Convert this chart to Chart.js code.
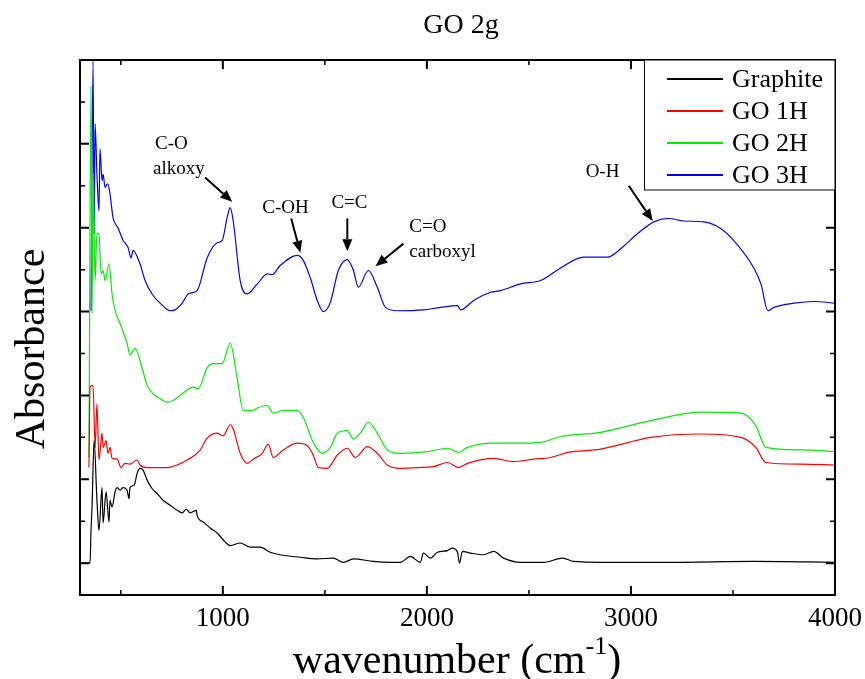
<!DOCTYPE html>
<html>
<head>
<meta charset="utf-8">
<script src="https://cdn.jsdelivr.net/npm/chart.js@4"></script>
<style>
  html, body { margin: 0; padding: 0; background: #fff; }
  #wrap { width: 865px; height: 679px; }
</style>
</head>
<body>
<div id="wrap"><canvas id="myChart" width="865" height="679"></canvas></div>
<script>
// values: [wavenumber, absorbance]
const graphite = [
  [300,0],[349,0],[354,0.39],[359,0.67],[369,1.46],[383,0.75],[393,0.39],[408,0.90],[413,0.48],
  [428,0.85],[442,0.49],[447,0.75],[457,0.67],[472,0.85],[482,0.90],[496,0.87],[511,0.90],
  [531,0.87],[540,0.77],[545,0.90],[565,0.93],[580,1.07],[594,1.13],[609,1.11],[629,0.99],
  [653,0.89],[678,0.83],[707,0.75],[742,0.69],[776,0.63],[801,0.60],[820,0.64],[840,0.60],
  [870,0.63],[874,0.57],[904,0.49],[938,0.42],[972,0.36],[1012,0.25],[1036,0.21],[1085,0.24],
  [1134,0.19],[1183,0.19],[1232,0.13],[1281,0.10],[1380,0.07],[1463,0.05],[1541,0.06],
  [1591,0.01],[1640,0.05],[1738,0.02],[1821,0.01],[1870,0.01],[1919,0.08],[1968,0.01],
  [1983,0.12],[2017,0.06],[2052,0.13],[2101,0.15],[2125,0.18],[2150,0.13],[2160,0.0],
  [2174,0.14],[2214,0.12],[2278,0.10],[2327,0.14],[2376,0.06],[2459,0.01],[2572,0.01],
  [2665,0.06],[2719,0.02],[2852,0.01],[3200,0.01],[3600,0.02],[4000,0.01]
];
const go1h = [
  [344,1.14],[349,2.10],[364,2.12],[374,1.38],[383,1.90],[393,1.23],[408,1.55],[413,1.38],
  [428,1.46],[437,1.31],[447,1.38],[457,1.25],[482,1.24],[501,1.14],[521,1.19],[545,1.18],
  [580,1.23],[594,1.17],[629,1.14],[678,1.14],[727,1.14],[776,1.17],[825,1.23],[864,1.29],
  [889,1.35],[923,1.49],[972,1.55],[1002,1.52],[1036,1.65],[1051,1.60],[1085,1.31],[1119,1.19],
  [1149,1.24],[1193,1.31],[1223,1.42],[1247,1.26],[1296,1.35],[1365,1.43],[1414,1.40],
  [1443,1.29],[1468,1.14],[1512,1.13],[1561,1.29],[1610,1.37],[1649,1.26],[1708,1.39],
  [1757,1.31],[1806,1.17],[1870,1.13],[1954,1.14],[2032,1.15],[2101,1.20],[2155,1.14],
  [2199,1.19],[2327,1.25],[2425,1.21],[2523,1.24],[2606,1.26],[2690,1.32],[2852,1.36],
  [3097,1.50],[3342,1.54],[3539,1.50],[3612,1.38],[3661,1.20],[3833,1.18],[4000,1.17]
];
const go2h = [
  [344,1.26],[354,5.69],[359,2.98],[364,4.65],[369,3.93],[374,3.37],[379,3.73],[383,3.93],
  [393,3.93],[403,3.45],[413,3.49],[423,3.37],[442,3.57],[457,3.21],[472,3.01],[496,2.86],
  [521,2.69],[531,2.62],[545,2.48],[570,2.56],[604,2.33],[629,2.12],[658,2.02],[693,1.96],
  [727,1.92],[756,1.94],[801,2.02],[854,2.10],[879,2.08],[923,2.33],[953,2.38],[997,2.38],
  [1036,2.62],[1070,2.21],[1100,1.82],[1144,1.82],[1169,1.85],[1218,1.88],[1247,1.79],
  [1296,1.82],[1365,1.82],[1394,1.74],[1443,1.44],[1487,1.31],[1527,1.38],[1561,1.55],
  [1610,1.58],[1640,1.48],[1674,1.55],[1713,1.68],[1757,1.55],[1806,1.35],[1870,1.31],
  [2003,1.33],[2101,1.37],[2155,1.32],[2199,1.38],[2327,1.43],[2425,1.43],[2557,1.44],
  [2655,1.51],[2852,1.56],[3097,1.70],[3342,1.80],[3539,1.79],[3612,1.64],[3661,1.38],
  [3833,1.35],[4000,1.33]
];
const go3h = [
  [354,3.01],[364,5.99],[369,3.93],[374,5.24],[383,4.64],[393,4.20],[398,4.94],[408,4.56],
  [413,4.64],[423,4.48],[433,4.52],[437,4.52],[447,4.40],[462,4.12],[486,4.00],[511,3.85],
  [536,3.76],[550,3.64],[560,3.73],[594,3.57],[619,3.37],[653,3.21],[693,3.10],[742,3.01],
  [766,3.02],[801,3.10],[830,3.21],[874,3.25],[923,3.64],[972,3.82],[997,3.85],[1021,4.12],
  [1036,4.24],[1051,4.08],[1085,3.37],[1119,3.21],[1169,3.33],[1218,3.45],[1242,3.44],
  [1281,3.55],[1365,3.67],[1394,3.61],[1429,3.40],[1463,3.13],[1492,3.00],[1527,3.11],
  [1566,3.49],[1610,3.62],[1640,3.49],[1664,3.29],[1713,3.49],[1757,3.29],[1797,3.05],
  [1856,3.01],[1983,3.02],[2067,3.05],[2150,3.07],[2165,3.02],[2228,3.13],[2312,3.23],
  [2361,3.25],[2459,3.33],[2557,3.37],[2655,3.52],[2768,3.65],[2886,3.65],[2950,3.75],
  [3033,3.93],[3112,4.07],[3185,4.11],[3259,4.08],[3357,4.07],[3440,3.99],[3524,3.79],
  [3602,3.52],[3637,3.33],[3671,3.01],[3701,3.05],[3799,3.10],[3897,3.12],[4000,3.10]
];
const seriesNames = ['Graphite', 'GO 1H', 'GO 2H', 'GO 3H'];
const xTicks = [1000, 2000, 3000, 4000];
const xMinorTicks = [500, 1500, 2500, 3500];
const yTicks = [0, 1, 2, 3, 4, 5, 6];
const yMinorTicks = [-0.5, 0.5, 1.5, 2.5, 3.5, 4.5, 5.5];

// peak labels: text lines at [x, y], arrow from -> to
const peakLabels = [
  { lines: [['C-O', 668, 5.00], ['alkoxy', 658, 4.70]], from: [913, 4.60], to: [1046, 4.31] },
  { lines: [['C-OH', 1193, 4.24]], from: [1335, 4.11], to: [1380, 3.70] },
  { lines: [['C=C', 1532, 4.29]], from: [1610, 4.11], to: [1610, 3.72] },
  { lines: [['C=O', 1914, 4.01], ['carboxyl', 1914, 3.71]], from: [1885, 3.81], to: [1748, 3.54] },
  { lines: [['O-H', 2778, 4.67]], from: [2989, 4.50], to: [3107, 4.08] }
];

const colors = ['#000000', '#ff0000', '#00ee00', '#0000ff'];
const serif = "'Liberation Serif', 'Times New Roman', serif";

const toXY = arr => arr.map(p => ({ x: p[0], y: p[1] }));

function arrow(ctx, x1, y1, x2, y2) {
  const a = Math.atan2(y2 - y1, x2 - x1);
  const len = 12, w = 5;
  const bx = x2 - len * Math.cos(a), by = y2 - len * Math.sin(a);
  ctx.beginPath();
  ctx.moveTo(x1, y1);
  ctx.lineTo(bx, by);
  ctx.lineWidth = 2;
  ctx.stroke();
  ctx.beginPath();
  ctx.moveTo(x2, y2);
  ctx.lineTo(bx + w * Math.sin(a), by - w * Math.cos(a));
  ctx.lineTo(bx - w * Math.sin(a), by + w * Math.cos(a));
  ctx.closePath();
  ctx.fill();
}

const decor = {
  id: 'decor',
  afterDraw(chart) {
    const ctx = chart.ctx;
    const xs = chart.scales.x, ys = chart.scales.y;
    const a = chart.chartArea;
    ctx.save();
    ctx.strokeStyle = '#000';
    ctx.fillStyle = '#000';

    // frame
    ctx.lineWidth = 2;
    ctx.strokeRect(a.left, a.top, a.right - a.left, a.bottom - a.top);

    // inward ticks on all four sides
    const tick = (vals, len) => {
      vals.forEach(v => {
        const px = xs.getPixelForValue(v);
        ctx.beginPath();
        ctx.moveTo(px, a.bottom); ctx.lineTo(px, a.bottom - len);
        ctx.moveTo(px, a.top); ctx.lineTo(px, a.top + len);
        ctx.stroke();
      });
    };
    const tickY = (vals, len) => {
      vals.forEach(v => {
        const py = ys.getPixelForValue(v);
        if (py < a.top || py > a.bottom) return;
        ctx.beginPath();
        ctx.moveTo(a.left, py); ctx.lineTo(a.left + len, py);
        ctx.moveTo(a.right, py); ctx.lineTo(a.right - len, py);
        ctx.stroke();
      });
    };
    ctx.lineWidth = 2;
    tick(xTicks, 9);
    tickY(yTicks, 9);
    ctx.lineWidth = 1.5;
    tick(xMinorTicks, 5);
    tickY(yMinorTicks, 5);

    // legend
    ctx.lineWidth = 1;
    ctx.fillStyle = '#fff';
    ctx.fillRect(644, a.top, a.right - 644, 130);
    ctx.strokeStyle = '#000';
    ctx.strokeRect(644.5, a.top, a.right - 644.5, 130);
    ctx.font = '26px ' + serif;
    ctx.textBaseline = 'middle';
    ctx.textAlign = 'left';
    seriesNames.forEach((name, i) => {
      const y = 79 + i * 32;
      ctx.strokeStyle = colors[i];
      ctx.lineWidth = 2;
      ctx.beginPath();
      ctx.moveTo(667, y); ctx.lineTo(723, y);
      ctx.stroke();
      ctx.fillStyle = '#000';
      ctx.fillText(name, 732, y + 1);
    });

    // peak labels
    ctx.strokeStyle = '#000';
    ctx.fillStyle = '#000';
    ctx.font = '19px ' + serif;
    peakLabels.forEach(p => {
      p.lines.forEach(l => {
        ctx.fillText(l[0], xs.getPixelForValue(l[1]), ys.getPixelForValue(l[2]));
      });
      arrow(ctx, xs.getPixelForValue(p.from[0]), ys.getPixelForValue(p.from[1]),
        xs.getPixelForValue(p.to[0]), ys.getPixelForValue(p.to[1]));
    });

    // chart title
    ctx.textAlign = 'center';
    ctx.textBaseline = 'alphabetic';
    ctx.font = '28px ' + serif;
    ctx.fillText('GO 2g', 461, 33);

    // x axis title with superscript
    const big = '42px ' + serif, small = '26px ' + serif;
    ctx.font = big;
    const w1 = ctx.measureText('wavenumber (cm').width;
    const w3 = ctx.measureText(')').width;
    ctx.font = small;
    const w2 = ctx.measureText('-1').width;
    let x0 = 457 - (w1 + w2 + w3) / 2;
    ctx.textAlign = 'left';
    ctx.font = big;
    ctx.fillText('wavenumber (cm', x0, 673);
    ctx.font = small;
    ctx.fillText('-1', x0 + w1, 654);
    ctx.font = big;
    ctx.fillText(')', x0 + w1 + w2, 673);

    // y axis title
    ctx.translate(44, 349);
    ctx.rotate(-Math.PI / 2);
    ctx.textAlign = 'center';
    ctx.font = big;
    ctx.fillText('Absorbance', 0, 0);
    ctx.restore();
  }
};

const ctxSpec = document.getElementById('myChart');
const mySpec = new Chart(ctxSpec, {
  type: 'line',
  data: {
    datasets: [graphite, go1h, go2h, go3h].map((d, i) => ({
      label: seriesNames[i],
      data: toXY(d),
      borderColor: colors[i],
      borderWidth: 1.2,
      pointRadius: 0,
      cubicInterpolationMode: 'monotone',
      fill: false
    }))
  },
  options: {
    responsive: false,
    animation: false,
    layout: { padding: { left: 0, top: 60, right: 30, bottom: 0 } },
    scales: {
      x: {
        type: 'linear',
        min: 300,
        max: 4000,
        afterFit: s => { s.height = 84; s.paddingLeft = 0; s.paddingRight = 0; },
        afterBuildTicks: s => { s.ticks = xTicks.map(v => ({ value: v })); },
        grid: { display: false, drawTicks: false },
        border: { display: false },
        ticks: {
          padding: 8,
          color: '#000',
          maxRotation: 0,
          font: { family: serif, size: 27 },
          callback: v => String(v)
        }
      },
      y: {
        type: 'linear',
        min: -0.38,
        max: 6,
        afterFit: s => { s.width = 80; },
        grid: { display: false, drawTicks: false },
        border: { display: false },
        ticks: { display: false }
      }
    },
    plugins: {
      legend: { display: false },
      tooltip: { enabled: false }
    }
  },
  plugins: [decor]
});
</script>
</body>
</html>
